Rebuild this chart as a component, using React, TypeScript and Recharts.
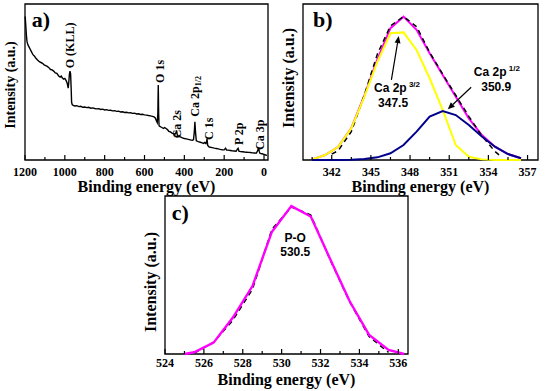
import { LineChart, Line, XAxis, YAxis, ReferenceArea, ReferenceDot, ReferenceLine } from "recharts";

const serif = "'Liberation Serif', 'Times New Roman', serif";
const sans = "'Liberation Sans', Arial, sans-serif";

// a) survey spectrum
const surveyEnergy = [
  1199, 1196, 1193, 1190, 1186, 1180, 1174, 1168, 1160, 1152, 1144, 1136, 1128, 1120, 1112, 1104, 1096, 1088, 1080,
  1072, 1064, 1056, 1048, 1040, 1032, 1024, 1018, 1012, 1006, 1000, 994, 989, 986, 983, 980, 977, 974, 971, 968, 966,
  963, 958, 950, 940, 930, 920, 910, 900, 890, 880, 870, 860, 850, 840, 830, 820, 810, 800, 790, 780, 770, 760, 750,
  740, 730, 720, 710, 700, 690, 680, 670, 660, 650, 640, 630, 620, 610, 600, 590, 580, 570, 560, 552, 546, 540, 536,
  533, 531, 529, 527, 523, 515, 505, 500, 495, 490, 485, 478, 470, 462, 455, 448, 442, 439, 436, 430, 420, 410, 400,
  390, 380, 370, 360, 354, 350, 347, 344, 340, 330, 320, 310, 303, 298, 292, 289, 286, 283, 278, 270, 260, 250, 240,
  230, 220, 210, 200, 193, 188, 180, 170, 160, 150, 140, 134, 130, 126, 118, 108, 98, 88, 78, 68, 58, 48, 38, 30, 27,
  24, 20, 10, 0, -8, -15,
];
const surveyCounts = [
  92, 86, 80, 76, 74, 72.5, 71, 69.5, 67.5, 66.5, 65, 64, 63, 62.5, 62, 61, 60.5, 60, 59.2,
  58, 57.8, 57, 55.8, 55.5, 54, 53.2, 53.8, 52.5, 51.8, 52.3, 51, 49.5, 48, 46, 50, 55, 57, 55, 45, 37,
  35.5, 35, 34.6, 34.8, 34.2, 34.4, 33.8, 34, 33.6, 33.8, 33.2, 33.4, 33, 32.8, 32.9, 32.4, 32.6, 32.1, 32.3, 31.8, 31.9, 31.5, 31.6,
  31.2, 31.3, 30.8, 30.9, 30.5, 30.6, 30.2, 30.3, 29.9, 30, 29.5, 29.6, 29.2, 29.3, 28.9, 28.8, 28.5, 28.3, 28, 27.6, 27, 25, 24,
  30, 48, 30, 22, 21.5, 21, 20.2, 20.8, 20.5, 20, 19.5, 18.4, 18, 17.2, 17, 16.4, 17.5, 19, 16.5, 15.2, 14.8, 14.2, 13.8,
  13.5, 13.2, 12.9, 12.6, 13, 18, 24.5, 18, 12.3, 11.8, 11.4, 11, 10.6, 11.2, 10.5, 11.5, 13.5, 9.5, 8.6, 8.2, 7.9, 7.6, 7.4,
  7.1, 6.8, 6.6, 6.5, 7.6, 6.4, 6.3, 6.1, 5.9, 5.8, 5.6, 7, 7.5, 5.6, 5.4, 5.3, 5.1, 5, 4.9, 4.8, 4.6, 4.5, 4.4, 6.5, 7.8,
  5.5, 4.2, 4, 3.6, 3.2, 3,
];
const surveyMajor = [1200, 1000, 800, 600, 400, 200, 0];
const surveyMinor = [1100, 900, 700, 500, 300, 100];

// b) Ca 2p
const caEnergy = [340.5, 341.5, 342.5, 343.5, 344.5, 345.5, 346.5, 347.5, 348.5, 349.5, 350.5, 351.5, 352.5, 353.5, 354.5, 355.5, 356.5];
const caEnvelope = [0.4, 3.2, 8.5, 20.5, 41.2, 64.7, 84.5, 91.9, 83.5, 68.4, 54.5, 40.6, 26.7, 16, 8.5, 3.8, 1.1];
const ca2p32 = [0.4, 3.2, 8.5, 20.3, 40.6, 63, 81.2, 81.8, 70.5, 52.4, 32.1, 9.6, 2.1, 0.4, 0, 0, 0];
const ca2p12 = [0, 0, 0, 0.2, 0.6, 1.7, 4.3, 9.6, 18.2, 27.8, 31.4, 28.8, 22.4, 15, 8.5, 3.8, 1.1];
const caRawEnergy = [342, 342.5, 343.5, 344.5, 345.5, 346.5, 347.5, 348.5, 349.5, 350.5, 351.5, 352.5, 353.5, 354.5, 355];
const caRaw = [3.8, 6, 18.2, 41.7, 68, 86, 92, 85.5, 69, 55, 41.5, 28, 15.5, 5.5, 2];
const caMajor = [342, 345, 348, 351, 354, 357];
const caMinor = [340.5, 343.5, 346.5, 349.5, 352.5, 355.5];

// c) P-O
const poEnergy = [525, 525.5, 526.5, 527.5, 528.5, 529.5, 530.5, 531.5, 532.5, 533.5, 534.5, 535.5, 536.3];
const poEnvelope = [0, 1.1, 7.2, 23.2, 43, 77.4, 93.6, 87, 60, 33.4, 12.1, 2.6, 0];
const poRawEnergy = [525.5, 526.5, 527.5, 528.5, 529.5, 530.5, 531.5, 532.5, 533.5, 534.5, 535.5];
const poRaw = [0.5, 7.5, 21.5, 41, 79, 93, 88, 59.5, 33, 11, 1];
const poMajor = [524, 526, 528, 530, 532, 534, 536];
const poMinor = [525, 527, 529, 531, 533, 535];

const zip = (e: number[], v: number[]) => e.map((x, i) => ({ e: x, v: v[i] }));

function EnergyTick(props: any) {
  const { x, y, payload, majors, dy } = props;
  const major = majors.includes(payload.value);
  return (
    <g>
      <line x1={x} x2={x} y1={y} y2={y - (major ? 5 : 3)} stroke="#000" strokeWidth={1.2} />
      {major && (
        <text x={x} y={y + dy} textAnchor="middle" fontFamily={serif} fontWeight="bold" fontSize={12} fill="#000">
          {payload.value}
        </text>
      )}
    </g>
  );
}

function XTitle({ viewBox, base }: any) {
  const { x, y, width } = viewBox;
  return (
    <text x={x + width / 2} y={y + base} textAnchor="middle" fontFamily={serif} fontWeight="bold" fontSize={16} fill="#000">
      Binding energy (eV)
    </text>
  );
}

function YTitle({ viewBox, off, size, shift }: any) {
  const cx = viewBox.x + viewBox.width - off;
  const cy = viewBox.y + viewBox.height / 2 + shift;
  return (
    <text x={cx} y={cy} transform={`rotate(-90 ${cx} ${cy})`} textAnchor="middle" dominantBaseline="central"
      fontFamily={serif} fontWeight="bold" fontSize={size} fill="#000">
      Intensity (a.u.)
    </text>
  );
}

// rotated peak tag, anchored at its lower end
function Tag({ viewBox, text, sub }: any) {
  const { x, y } = viewBox;
  return (
    <text x={x} y={y} transform={`rotate(-90 ${x} ${y})`} dominantBaseline="central"
      fontFamily={serif} fontWeight="bold" fontSize={12} fill="#000">
      {text}
      {sub && <tspan fontSize={8} dy={3}>{sub}</tspan>}
    </text>
  );
}

function Note({ viewBox, text, sup, size = 12, family = sans, anchor = "middle" }: any) {
  const { x, y } = viewBox;
  return (
    <text x={x} y={y} textAnchor={anchor} fontFamily={family} fontWeight="bold" fontSize={size} fill="#000">
      {text}
      {sup && <tspan fontSize={8} dy={-5}>{" " + sup}</tspan>}
    </text>
  );
}

function Arrow(p: any) {
  const { x1, y1, x2, y2 } = p;
  const a = Math.atan2(y2 - y1, x2 - x1);
  const L = 7;
  const W = 3;
  const bx = x2 - L * Math.cos(a);
  const by = y2 - L * Math.sin(a);
  const pts = `${x2},${y2} ${bx - W * Math.sin(a)},${by + W * Math.cos(a)} ${bx + W * Math.sin(a)},${by - W * Math.cos(a)}`;
  return (
    <g>
      <line x1={x1} y1={y1} x2={bx} y2={by} stroke="#000" strokeWidth={1.2} />
      <polygon points={pts} fill="#000" />
    </g>
  );
}

export default function App() {
  const surveyData = zip(surveyEnergy, surveyCounts);
  return (
    <div style={{ position: "absolute", left: 0, top: 0, width: 550, height: 391, background: "#fff" }}>
      <div style={{ position: "absolute", left: 0, top: 0 }}>
        <LineChart width={275} height={200} margin={{ top: 4, right: 7, left: 24, bottom: 7 }}>
          <XAxis dataKey="e" type="number" domain={[-20, 1200]} reversed ticks={[...surveyMajor, ...surveyMinor]}
            interval={0} height={33} tickSize={0} tickMargin={0} tickLine={false} axisLine={false}
            tick={<EnergyTick majors={surveyMajor} dy={16} />} label={<XTitle base={32} />} />
          <YAxis type="number" domain={[0, 100]} width={1} tick={false} axisLine={false} label={<YTitle off={15} size={14} shift={3} />} />
          <ReferenceArea x1={-20} x2={1200} y1={0} y2={100} fill="none" stroke="#000" strokeWidth={1.3} ifOverflow="visible" />
          <Line data={surveyData} dataKey="v" stroke="#000" strokeWidth={1.4} dot={false} isAnimationActive={false} />
          <ReferenceDot x={1166} y={85} r={0} label={<Note text="a)" size={22} family={serif} anchor="start" />} />
          <ReferenceDot x={974} y={58.8} r={0} label={<Tag text="O (KLL)" />} />
          <ReferenceDot x={523} y={49.4} r={0} label={<Tag text="O 1s" />} />
          <ReferenceDot x={439} y={13.9} r={0} label={<Tag text="Ca 2s" />} />
          <ReferenceDot x={347} y={27.8} r={0} label={<Tag text="Ca 2p" sub="1/2" />} />
          <ReferenceDot x={275} y={12.8} r={0} label={<Tag text="C 1s" />} />
          <ReferenceDot x={125} y={9.6} r={0} label={<Tag text="P 2p" />} />
          <ReferenceDot x={21} y={6.4} r={0} label={<Tag text="Ca 3p" />} />
        </LineChart>
      </div>

      <div style={{ position: "absolute", left: 275, top: 0 }}>
        <LineChart width={275} height={200} margin={{ top: 4, right: 12, left: 27, bottom: 7 }}>
          <XAxis dataKey="e" type="number" domain={[339.8, 357.8]} ticks={[...caMajor, ...caMinor]}
            interval={0} height={33} tickSize={0} tickMargin={0} tickLine={false} axisLine={false}
            tick={<EnergyTick majors={caMajor} dy={16} />} label={<XTitle base={32} />} />
          <YAxis type="number" domain={[0, 100]} width={1} tick={false} axisLine={false} label={<YTitle off={14.7} size={16} shift={-4} />} />
          <ReferenceArea x1={339.8} x2={357.8} y1={0} y2={100} fill="none" stroke="#000" strokeWidth={1.3} ifOverflow="visible" />
          <Line data={zip(caEnergy, caEnvelope)} dataKey="v" stroke="#ff00ff" strokeWidth={2} dot={false} isAnimationActive={false} />
          <Line data={zip(caRawEnergy, caRaw)} dataKey="v" stroke="#000" strokeWidth={1.5} strokeDasharray="5 4" dot={false} isAnimationActive={false} />
          <Line data={zip(caEnergy, ca2p32)} dataKey="v" stroke="#ffff00" strokeWidth={2} dot={false} isAnimationActive={false} />
          <Line data={zip(caEnergy, ca2p12)} dataKey="v" stroke="#00008b" strokeWidth={2} dot={false} isAnimationActive={false} />
          <ReferenceLine segment={[{ x: 346.57, y: 51.3 }, { x: 347.13, y: 79.5 }]} shape={Arrow} />
          <ReferenceLine segment={[{ x: 352.68, y: 46.6 }, { x: 350.89, y: 32.5 }]} shape={Arrow} />
          <ReferenceDot x={340.56} y={85.4} r={0} label={<Note text="b)" size={22} family={serif} anchor="start" />} />
          <ReferenceDot x={347} y={43.8} r={0} label={<Note text="Ca 2p" sup="3/2" />} />
          <ReferenceDot x={346.7} y={34.2} r={0} label={<Note text="347.5" />} />
          <ReferenceDot x={354.65} y={53.8} r={0} label={<Note text="Ca 2p" sup="1/2" />} />
          <ReferenceDot x={354.6} y={44.4} r={0} label={<Note text="350.9" />} />
        </LineChart>
      </div>

      <div style={{ position: "absolute", left: 140, top: 193 }}>
        <LineChart width={280} height={198} margin={{ top: 3, right: 12, left: 24, bottom: 7 }}>
          <XAxis dataKey="e" type="number" domain={[524, 536.5]} ticks={[...poMajor, ...poMinor]}
            interval={0} height={30} tickSize={0} tickMargin={0} tickLine={false} axisLine={false}
            tick={<EnergyTick majors={poMajor} dy={13} />} label={<XTitle base={31} />} />
          <YAxis type="number" domain={[0, 100]} width={1} tick={false} axisLine={false} label={<YTitle off={15} size={16} shift={7} />} />
          <ReferenceArea x1={524} x2={536.5} y1={0} y2={100} fill="none" stroke="#000" strokeWidth={1.3} ifOverflow="visible" />
          <Line data={zip(poRawEnergy, poRaw)} dataKey="v" stroke="#000" strokeWidth={1.5} strokeDasharray="5 4" dot={false} isAnimationActive={false} />
          <Line data={zip(poEnergy, poEnvelope)} dataKey="v" stroke="#ff00ff" strokeWidth={2.4} dot={false} isAnimationActive={false} />
          <ReferenceDot x={524.35} y={84.8} r={0} label={<Note text="c)" size={22} family={serif} anchor="start" />} />
          <ReferenceDot x={530.7} y={71.1} r={0} label={<Note text="P-O" />} />
          <ReferenceDot x={530.7} y={62} r={0} label={<Note text="530.5" />} />
        </LineChart>
      </div>
    </div>
  );
}
